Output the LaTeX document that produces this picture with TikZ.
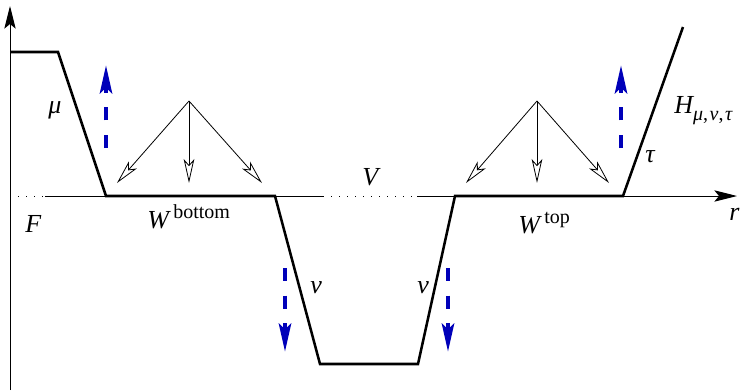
\documentclass[tikz,border=0pt]{standalone}
\usepackage{fontspec}
\setmainfont{Liberation Serif}
\usetikzlibrary{arrows.meta}
\definecolor{flowblue}{RGB}{0,0,185}
\begin{document}
\begin{tikzpicture}[x=0.75pt,y=-0.75pt,
  lbl/.style={inner sep=0pt, anchor=base west, font=\fontsize{19.5}{22}\selectfont\itshape},
  prof/.style={line width=1.9pt, line join=miter},
  axis/.style={line width=0.7pt},
  dotax/.style={line width=0.6pt, dash pattern=on 0.6pt off 5.4pt},
  axtip/.style={-{Stealth[length=17pt, width=8.5pt, inset=3.5pt]}},
  force/.style={line width=0.6pt, -{Stealth[open, length=18pt, width=8pt, inset=4.5pt]}},
  flow/.style={draw=flowblue, line width=3.7pt, dash pattern=on 9.75pt off 11pt,
    -{Stealth[length=21pt, width=9pt, inset=4pt, fill=flowblue]}},
]
\useasboundingbox (0,0) rectangle (744,390);

% axes
\coordinate (origin) at (10,196);
\coordinate (dotA) at (45,196);
\coordinate (dotB) at (323,196);
\coordinate (dotC) at (417,196);
\coordinate (xend) at (737,196);
\coordinate (ybot) at (10,390);
\coordinate (yend) at (10,6);
\draw[axis, axtip] (ybot) -- (yend);
\draw[dotax] (origin) -- (dotA);
\draw[axis] (dotA) -- (dotB);
\draw[dotax] (dotB) -- (dotC);
\draw[axis, axtip] (dotC) -- (xend);

% profile
\coordinate (p0) at (10,52);
\coordinate (p1) at (58,52);
\coordinate (p2) at (106,196);
\coordinate (p3) at (275,196);
\coordinate (p4) at (320,364);
\coordinate (p5) at (418,364);
\coordinate (p6) at (455,196);
\coordinate (p7) at (623,196);
\coordinate (p8) at (683,27);
\draw[prof] (p0) -- (p1) -- (p2) -- (p3) -- (p4) -- (p5) -- (p6) -- (p7) -- (p8);

% open force arrows, left group
\coordinate (apexL) at (189,101);
\coordinate (tL1) at (117,183);
\coordinate (tL2) at (189,183);
\coordinate (tL3) at (262,183);
\draw[force] (apexL) -- (tL1);
\draw[force] (apexL) -- (tL2);
\draw[force] (apexL) -- (tL3);
% right group
\coordinate (apexR) at (537,101);
\coordinate (tR1) at (466,183);
\coordinate (tR2) at (537,183);
\coordinate (tR3) at (609,183);
\draw[force] (apexR) -- (tR1);
\draw[force] (apexR) -- (tR2);
\draw[force] (apexR) -- (tR3);

% blue dashed flows
\coordinate (fu1s) at (106,148);
\coordinate (fu1e) at (106,65);
\coordinate (fu2s) at (621,148);
\coordinate (fu2e) at (621,65);
\coordinate (fd1s) at (285,268);
\coordinate (fd1e) at (285,352);
\coordinate (fd2s) at (448,268);
\coordinate (fd2e) at (448,352);
\draw[flow] (fu1s) -- (fu1e);
\draw[flow] (fu2s) -- (fu2e);
\draw[flow] (fd1s) -- (fd1e);
\draw[flow] (fd2s) -- (fd2e);

% labels
\node[lbl] (mu) at (48,113) {μ};
\node[lbl] (F) at (25,232) {F};
\node[lbl] (Wb) at (147,228) {W\,\raisebox{0.38em}{\upshape\fontsize{15}{16}\selectfont bottom}};
\node[lbl] (V) at (362,185) {V};
\node[lbl] (nu1) at (310,293) {ν};
\node[lbl] (nu2) at (417,293) {ν};
\node[lbl] (Wt) at (518,233) {W\,\raisebox{0.38em}{\upshape\fontsize{15}{16}\selectfont top}};
\node[lbl] (tau) at (645,162) {τ};
\node[lbl] (H) at (674,113) {H\raisebox{-0.3em}{\fontsize{15}{16}\selectfont μ\upshape,\kern0.08em\itshape ν\upshape,\kern0.08em\itshape τ}};
\node[lbl] (r) at (729,220) {r};
\end{tikzpicture}
\end{document}
